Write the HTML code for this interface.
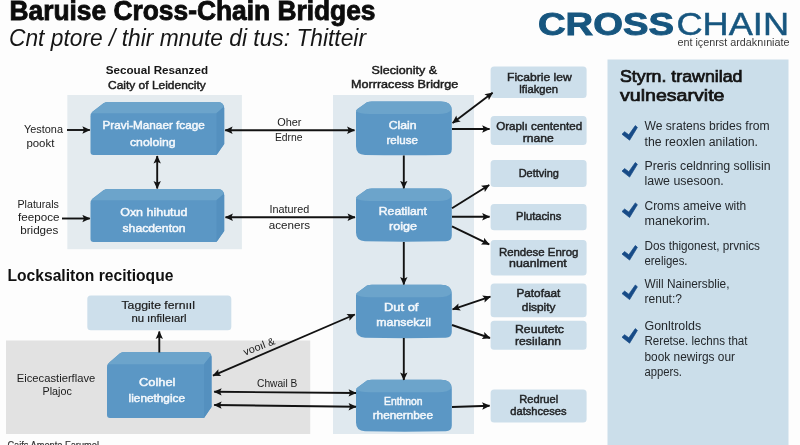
<!DOCTYPE html>
<html lang="en">
<head>
<meta charset="utf-8">
<title>Baruise Cross-Chain Bridges</title>
<style>
html,body{margin:0;padding:0;background:#fdfdfd;}
body{width:800px;height:445px;overflow:hidden;position:relative;font-family:"Liberation Sans",sans-serif;}
svg{position:absolute;left:0;top:0;display:block;filter:blur(0.4px);}
text{font-family:"Liberation Sans",sans-serif;}
</style>
</head>
<body>
<svg width="800" height="445" viewBox="0 0 800 445">
<defs>
<marker id="ah" viewBox="0 0 10 10" refX="9.3" refY="5" markerWidth="8.6" markerHeight="8" markerUnits="userSpaceOnUse" orient="auto-start-reverse">
<path d="M0,0.4 L10,5 L0,9.6 L2,5 Z" fill="#121212"/>
</marker>
</defs>
<!-- panels and shapes -->
<rect x="67.3" y="95" width="174.6" height="154.2" fill="#e4ebef"/>
<rect x="333" y="95" width="141" height="339" fill="#e0e9ef"/>
<rect x="6" y="340.5" width="304.2" height="93.5" fill="#e2e2e2"/>
<rect x="607.5" y="59.5" width="181" height="386" fill="#cbdeea"/>
<path d="M90.5,116.3 Q90.5,113.3 93.0,111.3 L103.5,103.3 Q105.5,102.1 108.5,102.1 L217.7,102.1 Q224.2,102.1 224.2,108.6 L224.2,144 L216.5,155.1 L93.5,155.1 Q90.5,155.1 90.5,152.1 Z" fill="#5b97c5"/>
<path d="M91.0,113.3 L103.5,103.3 Q105.5,102.1 108.5,102.1 L217.7,102.1 Q223.2,102.1 223.6,107.1 L216.5,113.3 Z" fill="#6ca4cb"/>
<path d="M216.5,113.3 L223.6,107.1 Q224.2,107.6 224.2,108.6 L224.2,144 L216.5,155.1 Z" fill="#5490bf"/>
<path d="M90.5,203.2 Q90.5,200.2 93.0,198.2 L103.5,190.2 Q105.5,189 108.5,189 L217.7,189 Q224.2,189 224.2,195.5 L224.2,231 L216.5,242 L93.5,242 Q90.5,242 90.5,239 Z" fill="#5b97c5"/>
<path d="M91.0,200.2 L103.5,190.2 Q105.5,189 108.5,189 L217.7,189 Q223.2,189 223.6,194.0 L216.5,200.2 Z" fill="#6ca4cb"/>
<path d="M216.5,200.2 L223.6,194.0 Q224.2,194.5 224.2,195.5 L224.2,231 L216.5,242 Z" fill="#5490bf"/>
<path d="M107,367.3 Q107,364.3 109.5,362.3 L120,353.2 Q122,352 125,352 L206.5,352 Q211.5,352 211.5,357 L211.5,407 L204,418 L110,418 Q107,418 107,415 Z" fill="#5b97c5"/>
<path d="M107.5,364.3 L120,353.2 Q122,352 125,352 L206.5,352 Q210.5,352 210.9,355.5 L204,364.3 Z" fill="#6ca4cb"/>
<path d="M204,364.3 L210.9,355.5 Q211.5,356 211.5,357 L211.5,407 L204,418 Z" fill="#5490bf"/>
<rect x="87.3" y="295.5" width="144" height="34.8" rx="3.5" fill="#cddfeb"/>
<path d="M356,112.3 Q356,110.3 357.5,109.1 L367,102.3 Q369,101.5 372,101.5 L440.8,101.5 Q451.8,101.5 451.8,110.5 L451.8,149.2 Q451.8,154.7 445.8,154.89999999999998 Q403.9,155.79999999999998 365,154.89999999999998 Q356,154.7 356,146.2 Z" fill="#5b97c5"/>
<path d="M356,110.8 Q356,110.3 357.5,109.1 L367,102.3 Q369,101.5 372,101.5 L440.8,101.5 Q451.3,101.5 451.5,109.5 Q448.8,114.0 437.8,114.0 L370,114.0 Q359,114.0 356,110.8 Z" fill="#6ca4cb"/>
<path d="M356,199.3 Q356,197.3 357.5,196.10000000000002 L367,189.3 Q369,188.5 372,188.5 L440.8,188.5 Q451.8,188.5 451.8,197.5 L451.8,235.5 Q451.8,241.0 445.8,241.2 Q403.9,242.1 365,241.2 Q356,241.0 356,232.5 Z" fill="#5b97c5"/>
<path d="M356,197.8 Q356,197.3 357.5,196.10000000000002 L367,189.3 Q369,188.5 372,188.5 L440.8,188.5 Q451.3,188.5 451.5,196.5 Q448.8,201.0 437.8,201.0 L370,201.0 Q359,201.0 356,197.8 Z" fill="#6ca4cb"/>
<path d="M356,295.6 Q356,293.6 357.5,292.40000000000003 L367,285.6 Q369,284.8 372,284.8 L440.8,284.8 Q451.8,284.8 451.8,293.8 L451.8,332 Q451.8,337.5 445.8,337.7 Q403.9,338.6 365,337.7 Q356,337.5 356,329 Z" fill="#5b97c5"/>
<path d="M356,294.1 Q356,293.6 357.5,292.40000000000003 L367,285.6 Q369,284.8 372,284.8 L440.8,284.8 Q451.3,284.8 451.5,292.8 Q448.8,297.3 437.8,297.3 L370,297.3 Q359,297.3 356,294.1 Z" fill="#6ca4cb"/>
<path d="M356,390.6 Q356,388.6 357.5,387.40000000000003 L367,380.6 Q369,379.8 372,379.8 L440.8,379.8 Q451.8,379.8 451.8,388.8 L451.8,425.5 Q451.8,431.0 445.8,431.2 Q403.9,432.1 365,431.2 Q356,431.0 356,422.5 Z" fill="#5b97c5"/>
<path d="M356,389.1 Q356,388.6 357.5,387.40000000000003 L367,380.6 Q369,379.8 372,379.8 L440.8,379.8 Q451.3,379.8 451.5,387.8 Q448.8,392.3 437.8,392.3 L370,392.3 Q359,392.3 356,389.1 Z" fill="#6ca4cb"/>
<g fill="#cddfeb">
<rect x="490.6" y="66.5" width="96" height="31.5" rx="3.5"/>
<rect x="490.6" y="116" width="96" height="29.0" rx="3.5"/>
<rect x="490.6" y="160" width="96" height="27.0" rx="3.5"/>
<rect x="490.6" y="204" width="96" height="26.3" rx="3.5"/>
<rect x="490.6" y="240" width="96" height="35.5" rx="3.5"/>
<rect x="490.6" y="283.5" width="96" height="33.8" rx="3.5"/>
<rect x="490.6" y="320.8" width="96" height="28.9" rx="3.5"/>
<rect x="490.6" y="389.5" width="96" height="33.0" rx="3.5"/>
</g>
<!-- arrows -->
<g stroke="#121212" stroke-width="1.9" fill="none">
<line x1="67" y1="130" x2="89.8" y2="130" marker-end="url(#ah)"/>
<line x1="62" y1="218.5" x2="89.8" y2="218.5" marker-end="url(#ah)"/>
<line x1="225.2" y1="130.2" x2="354.5" y2="130.2" marker-start="url(#ah)" marker-end="url(#ah)"/>
<line x1="225.5" y1="217.3" x2="355" y2="217.3" marker-start="url(#ah)" marker-end="url(#ah)"/>
<line x1="157.2" y1="156" x2="157.2" y2="188.5" marker-start="url(#ah)" marker-end="url(#ah)"/>
<line x1="403.8" y1="155.5" x2="403.8" y2="188.3" marker-end="url(#ah)"/>
<line x1="403.8" y1="242" x2="403.8" y2="284.5" marker-end="url(#ah)"/>
<line x1="403.8" y1="338" x2="403.8" y2="380" marker-end="url(#ah)"/>
<line x1="452.6" y1="123" x2="492.6" y2="92.8" marker-start="url(#ah)" marker-end="url(#ah)"/>
<line x1="452" y1="129" x2="489.6" y2="129" marker-end="url(#ah)"/>
<line x1="452" y1="208.2" x2="489.2" y2="185" marker-end="url(#ah)"/>
<line x1="452" y1="216.8" x2="489.6" y2="216.8" marker-end="url(#ah)"/>
<line x1="452" y1="226.4" x2="489.2" y2="244.4" marker-end="url(#ah)"/>
<line x1="452.6" y1="309.3" x2="490.4" y2="296.6" marker-start="url(#ah)" marker-end="url(#ah)"/>
<line x1="452" y1="325" x2="490" y2="338" marker-end="url(#ah)"/>
<line x1="452" y1="407" x2="489.6" y2="405.7" marker-end="url(#ah)"/>
<line x1="159.3" y1="352.5" x2="159.3" y2="331.5" marker-end="url(#ah)"/>
<line x1="213" y1="375.6" x2="354.8" y2="314.5" marker-start="url(#ah)" marker-end="url(#ah)"/>
<line x1="214.2" y1="391.8" x2="356" y2="393" marker-start="url(#ah)" marker-end="url(#ah)"/>
<line x1="214.2" y1="405" x2="356" y2="406.8" marker-start="url(#ah)" marker-end="url(#ah)"/>
</g>
<!-- text -->
<text x="9.5" y="19.8" font-size="28.5" font-weight="bold" stroke="#0c0c0c" stroke-width="0.9" fill="#0c0c0c" textLength="366.0" lengthAdjust="spacingAndGlyphs">Baruise Cross-Chain Bridges</text>
<text x="9" y="46.3" font-size="24" fill="#161616" textLength="357.0" lengthAdjust="spacingAndGlyphs" font-style="italic">Cnt ptore / thir mnute di tus: Thitteir</text>
<text x="538" y="35" font-size="31.5" font-weight="bold" stroke="#17567f" stroke-width="0.9" fill="#17567f" textLength="136.0" lengthAdjust="spacingAndGlyphs">CROSS</text>
<text x="676.5" y="35" font-size="31.5" stroke="#17567f" stroke-width="0.45" fill="#17567f" textLength="112.5" lengthAdjust="spacingAndGlyphs">CHAIN</text>
<text x="677.5" y="46.3" font-size="10.5" fill="#3a3a3a" textLength="112.0" lengthAdjust="spacingAndGlyphs">ent içenrst ardaknıniate</text>
<text x="105.8" y="74" font-size="10.8" font-weight="bold" fill="#161616" textLength="102.2" lengthAdjust="spacingAndGlyphs">Secoual Resanzed</text>
<text x="108" y="89.2" font-size="10.8" stroke="#1c1c1c" stroke-width="0.45" fill="#1c1c1c" textLength="97.8" lengthAdjust="spacingAndGlyphs">Caity of Leidencity</text>
<text x="371.6" y="74.3" font-size="10.8" stroke="#1c1c1c" stroke-width="0.45" fill="#1c1c1c" textLength="65.4" lengthAdjust="spacingAndGlyphs">Slecionity &amp;</text>
<text x="351" y="88.4" font-size="10.8" stroke="#1c1c1c" stroke-width="0.45" fill="#1c1c1c" textLength="107.2" lengthAdjust="spacingAndGlyphs">Morrracess Bridrge</text>
<text x="102.5" y="129.3" font-size="10.5" stroke="#f4f8fc" stroke-width="0.45" fill="#f4f8fc" textLength="102.2" lengthAdjust="spacingAndGlyphs">Pravi-Manaer fcage</text>
<text x="130" y="145.6" font-size="10.5" stroke="#f4f8fc" stroke-width="0.45" fill="#f4f8fc" textLength="45.5" lengthAdjust="spacingAndGlyphs">cnoloing</text>
<text x="120.2" y="216.2" font-size="10.5" stroke="#f4f8fc" stroke-width="0.45" fill="#f4f8fc" textLength="67.2" lengthAdjust="spacingAndGlyphs">Oxn hihutud</text>
<text x="122.5" y="232" font-size="10.5" stroke="#f4f8fc" stroke-width="0.45" fill="#f4f8fc" textLength="63.1" lengthAdjust="spacingAndGlyphs">shacdenton</text>
<text x="139" y="386.2" font-size="10.5" stroke="#f4f8fc" stroke-width="0.45" fill="#f4f8fc" textLength="36.4" lengthAdjust="spacingAndGlyphs">Colhel</text>
<text x="128.6" y="401.6" font-size="10.5" stroke="#f4f8fc" stroke-width="0.45" fill="#f4f8fc" textLength="56.4" lengthAdjust="spacingAndGlyphs">lienethgice</text>
<text x="388.7" y="129.3" font-size="10.5" stroke="#f4f8fc" stroke-width="0.45" fill="#f4f8fc" textLength="27.9" lengthAdjust="spacingAndGlyphs">Clain</text>
<text x="386.4" y="144" font-size="10.5" stroke="#f4f8fc" stroke-width="0.45" fill="#f4f8fc" textLength="31.5" lengthAdjust="spacingAndGlyphs">reluse</text>
<text x="378.8" y="214.5" font-size="10.5" stroke="#f4f8fc" stroke-width="0.45" fill="#f4f8fc" textLength="48.2" lengthAdjust="spacingAndGlyphs">Reatilant</text>
<text x="389" y="229.9" font-size="10.5" stroke="#f4f8fc" stroke-width="0.45" fill="#f4f8fc" textLength="28.0" lengthAdjust="spacingAndGlyphs">roige</text>
<text x="384" y="310.8" font-size="10.5" stroke="#f4f8fc" stroke-width="0.45" fill="#f4f8fc" textLength="34.4" lengthAdjust="spacingAndGlyphs">Dut of</text>
<text x="376.3" y="325.6" font-size="10.5" stroke="#f4f8fc" stroke-width="0.45" fill="#f4f8fc" textLength="54.7" lengthAdjust="spacingAndGlyphs">mansekzil</text>
<text x="384" y="404.6" font-size="10.5" stroke="#f4f8fc" stroke-width="0.45" fill="#f4f8fc" textLength="38.6" lengthAdjust="spacingAndGlyphs">Enthnon</text>
<text x="372.7" y="418.7" font-size="10.5" stroke="#f4f8fc" stroke-width="0.45" fill="#f4f8fc" textLength="60.3" lengthAdjust="spacingAndGlyphs">rhenernbee</text>
<text x="121.5" y="309" font-size="11" stroke="#1b1b1b" stroke-width="0.2" fill="#1b1b1b" textLength="73.5" lengthAdjust="spacingAndGlyphs">Taggite fernııl</text>
<text x="131.4" y="321.6" font-size="11" stroke="#1b1b1b" stroke-width="0.2" fill="#1b1b1b" textLength="55.2" lengthAdjust="spacingAndGlyphs">nu ınfileıarl</text>
<text x="507" y="80.8" font-size="11" stroke="#222426" stroke-width="0.45" fill="#222426" textLength="64.7" lengthAdjust="spacingAndGlyphs">Ficabrie lew</text>
<text x="519.3" y="93.2" font-size="10.5" stroke="#222426" stroke-width="0.45" fill="#222426" textLength="38.7" lengthAdjust="spacingAndGlyphs">lfiakgen</text>
<text x="496.2" y="130.3" font-size="11" stroke="#222426" stroke-width="0.45" fill="#222426" textLength="86.0" lengthAdjust="spacingAndGlyphs">Oraplı centented</text>
<text x="522.7" y="142.2" font-size="10.5" stroke="#222426" stroke-width="0.45" fill="#222426" textLength="31.0" lengthAdjust="spacingAndGlyphs">rnane</text>
<text x="518.7" y="176.5" font-size="11" stroke="#222426" stroke-width="0.45" fill="#222426" textLength="40.3" lengthAdjust="spacingAndGlyphs">Dettving</text>
<text x="516" y="219.7" font-size="11" stroke="#222426" stroke-width="0.45" fill="#222426" textLength="45.3" lengthAdjust="spacingAndGlyphs">Plutacins</text>
<text x="498.9" y="256" font-size="11" stroke="#222426" stroke-width="0.45" fill="#222426" textLength="79.5" lengthAdjust="spacingAndGlyphs">Rendese Enrog</text>
<text x="509" y="267.4" font-size="10.5" stroke="#222426" stroke-width="0.45" fill="#222426" textLength="57.8" lengthAdjust="spacingAndGlyphs">nuanlment</text>
<text x="516.4" y="297" font-size="11" stroke="#222426" stroke-width="0.45" fill="#222426" textLength="44.0" lengthAdjust="spacingAndGlyphs">Patofaat</text>
<text x="521.8" y="310.5" font-size="11" stroke="#222426" stroke-width="0.45" fill="#222426" textLength="33.7" lengthAdjust="spacingAndGlyphs">dispity</text>
<text x="515" y="332.6" font-size="11" stroke="#222426" stroke-width="0.45" fill="#222426" textLength="49.0" lengthAdjust="spacingAndGlyphs">Reuutetc</text>
<text x="515" y="345" font-size="11" stroke="#222426" stroke-width="0.45" fill="#222426" textLength="46.0" lengthAdjust="spacingAndGlyphs">resiılann</text>
<text x="519.3" y="403" font-size="11" stroke="#222426" stroke-width="0.45" fill="#222426" textLength="38.9" lengthAdjust="spacingAndGlyphs">Redruel</text>
<text x="510.3" y="415.1" font-size="11" stroke="#222426" stroke-width="0.45" fill="#222426" textLength="56.2" lengthAdjust="spacingAndGlyphs">datshceses</text>
<text x="24" y="133" font-size="11" fill="#1b1b1b" textLength="39.0" lengthAdjust="spacingAndGlyphs">Yestona</text>
<text x="26.4" y="146.6" font-size="11" fill="#1b1b1b" textLength="28.0" lengthAdjust="spacingAndGlyphs">pookt</text>
<text x="17.5" y="207.6" font-size="11" fill="#1b1b1b" textLength="41.4" lengthAdjust="spacingAndGlyphs">Platurals</text>
<text x="18" y="221.1" font-size="11" fill="#1b1b1b" textLength="41.5" lengthAdjust="spacingAndGlyphs">feepoce</text>
<text x="20.2" y="234.2" font-size="11" fill="#1b1b1b" textLength="38.2" lengthAdjust="spacingAndGlyphs">bridges</text>
<text x="277.2" y="126.3" font-size="11" fill="#1b1b1b" textLength="24.3" lengthAdjust="spacingAndGlyphs">Oher</text>
<text x="274.9" y="141" font-size="11" fill="#1b1b1b" textLength="27.6" lengthAdjust="spacingAndGlyphs">Edrne</text>
<text x="269.5" y="212.8" font-size="11" fill="#1b1b1b" textLength="39.7" lengthAdjust="spacingAndGlyphs">Inatured</text>
<text x="268.8" y="228.6" font-size="11" fill="#1b1b1b" textLength="41.4" lengthAdjust="spacingAndGlyphs">aceners</text>
<text x="16.8" y="382" font-size="11" fill="#1b1b1b" textLength="78.5" lengthAdjust="spacingAndGlyphs">Eicecastierflave</text>
<text x="42.6" y="394.9" font-size="11" fill="#1b1b1b" textLength="29.2" lengthAdjust="spacingAndGlyphs">Plajoc</text>
<text x="257" y="387" font-size="11" fill="#1b1b1b" textLength="40.3" lengthAdjust="spacingAndGlyphs">Chwail B</text>
<text x="7.5" y="280.5" font-size="16.5" font-weight="bold" fill="#111" textLength="165.9" lengthAdjust="spacingAndGlyphs">Locksaliton recitioque</text>
<text x="7.4" y="449" font-size="10" stroke="#333" stroke-width="0.2" fill="#333" textLength="91.6" lengthAdjust="spacingAndGlyphs">Caifs Amente Farumel</text>
<text x="620" y="82" font-size="16" stroke="#141414" stroke-width="0.7" fill="#141414" textLength="122.5" lengthAdjust="spacingAndGlyphs">Styrn. trawnilad</text>
<text x="620" y="101.2" font-size="16" stroke="#141414" stroke-width="0.7" fill="#141414" textLength="104.5" lengthAdjust="spacingAndGlyphs">vulnesarvite</text>
<text x="644.5" y="130" font-size="12.5" fill="#24282c" textLength="125.0" lengthAdjust="spacingAndGlyphs">We sratens brides from</text>
<text x="644.5" y="145.5" font-size="12.5" fill="#24282c" textLength="113.5" lengthAdjust="spacingAndGlyphs">the reoxlen anilation.</text>
<text x="644.5" y="170" font-size="12.5" fill="#24282c" textLength="126.0" lengthAdjust="spacingAndGlyphs">Preris celdnring sollisin</text>
<text x="644.5" y="185" font-size="12.5" fill="#24282c" textLength="79.3" lengthAdjust="spacingAndGlyphs">lawe usesoon.</text>
<text x="644.5" y="209.5" font-size="12.5" fill="#24282c" textLength="101.7" lengthAdjust="spacingAndGlyphs">Croms ameive with</text>
<text x="644.5" y="224.5" font-size="12.5" fill="#24282c" textLength="65.5" lengthAdjust="spacingAndGlyphs">manekorim.</text>
<text x="644.5" y="250" font-size="12.5" fill="#24282c" textLength="115.5" lengthAdjust="spacingAndGlyphs">Dos thigonest, prvnics</text>
<text x="644.5" y="264.5" font-size="12.5" fill="#24282c" textLength="43.0" lengthAdjust="spacingAndGlyphs">ereliges.</text>
<text x="644.5" y="288" font-size="12.5" fill="#24282c" textLength="85.0" lengthAdjust="spacingAndGlyphs">Will Nainersblie,</text>
<text x="644.5" y="303" font-size="12.5" fill="#24282c" textLength="37.5" lengthAdjust="spacingAndGlyphs">renut:?</text>
<text x="644.5" y="329.5" font-size="12.5" fill="#24282c" textLength="56.7" lengthAdjust="spacingAndGlyphs">Gonltrolds</text>
<text x="644.5" y="345" font-size="12.5" fill="#24282c" textLength="103.0" lengthAdjust="spacingAndGlyphs">Reretse. lechns that</text>
<text x="644.5" y="361.2" font-size="12.5" fill="#24282c" textLength="90.5" lengthAdjust="spacingAndGlyphs">book newirgs our</text>
<text x="644.5" y="376.2" font-size="12.5" fill="#24282c" textLength="37.5" lengthAdjust="spacingAndGlyphs">appers.</text>
<text x="259" y="350" font-size="10.5" fill="#1b1b1b" text-anchor="middle" textLength="33" lengthAdjust="spacingAndGlyphs" transform="rotate(-21 259 346)">vooıl &amp;</text>
<!-- check marks -->
<g fill="#174b87" stroke="#174b87" stroke-width="0.7" stroke-linejoin="round">
<path d="M622.0,134.2 L624.6,131.7 L628.8,134.8 L635.3,125.6 L637.4,127.4 L629.6,140.2 Z"/>
<path d="M622.0,171.1 L624.6,168.6 L628.8,171.7 L635.3,162.5 L637.4,164.3 L629.6,177.1 Z"/>
<path d="M622.0,211.5 L624.6,209.0 L628.8,212.1 L635.3,202.9 L637.4,204.7 L629.6,217.5 Z"/>
<path d="M622.0,254.1 L624.6,251.6 L628.8,254.7 L635.3,245.5 L637.4,247.3 L629.6,260.1 Z"/>
<path d="M622.0,293.6 L624.6,291.1 L628.8,294.2 L635.3,285.0 L637.4,286.8 L629.6,299.6 Z"/>
<path d="M622.0,337.2 L624.6,334.7 L628.8,337.8 L635.3,328.6 L637.4,330.4 L629.6,343.2 Z"/>
</g>
</svg>
</body>
</html>
